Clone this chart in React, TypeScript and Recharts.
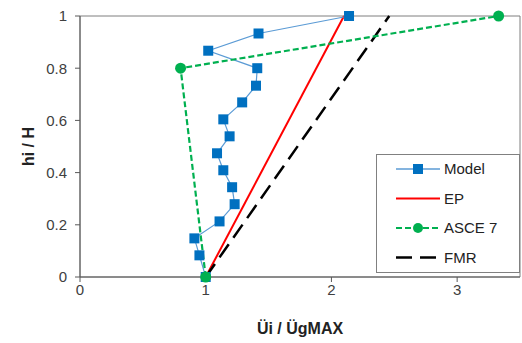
import React from 'react';
import {
  ComposedChart,
  Line,
  XAxis,
  YAxis,
  ReferenceArea,
} from 'recharts';

// values
const modelX = [2.14, 1.42, 1.02, 1.41, 1.4, 1.29, 1.14, 1.19, 1.09, 1.14, 1.21, 1.23, 1.11, 0.91, 0.95, 1.0];
const modelY = [1.0, 0.933, 0.867, 0.8, 0.733, 0.669, 0.604, 0.539, 0.474, 0.409, 0.344, 0.279, 0.213, 0.148, 0.083, 0];
const epX = [1, 2.1];
const epY = [0, 1];
const asceX = [1, 0.8, 3.33];
const asceY = [0, 0.8, 1];
const fmrX = [1, 2.46];
const fmrY = [0, 1];
const xTicks = [0, 1, 2, 3];
const yTicks = [0, 0.2, 0.4, 0.6, 0.8, 1];

const zip = (xs: number[], ys: number[]) => xs.map((x, i) => ({ x, y: ys[i] }));

const BLUE = '#0070C0';
const BLUE_LINE = '#5B9BD5';
const GREEN = '#00B050';
const FONT = '"Liberation Sans", Arial, sans-serif';

const SquareDot = (props: any) => {
  const { cx, cy } = props;
  if (cx == null || cy == null) return null;
  return <rect x={cx - 5} y={cy - 5} width={10} height={10} fill={BLUE} />;
};

const RoundDot = (props: any) => {
  const { cx, cy } = props;
  if (cx == null || cy == null) return null;
  return <circle cx={cx} cy={cy} r={5.5} fill={GREEN} />;
};

const legendItems = [
  { name: 'Model', color: BLUE_LINE, dash: undefined, width: 1.5, marker: 'square' },
  { name: 'EP', color: '#FF0000', dash: undefined, width: 2, marker: 'none' },
  { name: 'ASCE 7', color: GREEN, dash: '6 3', width: 2.2, marker: 'circle' },
  { name: 'FMR', color: '#000000', dash: '16 8', width: 2.5, marker: 'none' },
];

const LegendBox = () => (
  <svg width={145} height={120} style={{ display: 'block' }}>
    <rect x={0.5} y={0.5} width={143} height={118} fill='#fff' stroke='#808080' />
    {legendItems.map((it, i) => {
      const y = 15 + i * 29.5;
      return (
        <g key={it.name}>
          <line x1={20} x2={64} y1={y} y2={y} stroke={it.color} strokeWidth={it.width} strokeDasharray={it.dash} />
          {it.marker === 'square' && <rect x={37} y={y - 5} width={10} height={10} fill={BLUE} />}
          {it.marker === 'circle' && <circle cx={42} cy={y} r={5} fill={GREEN} />}
          <text x={68} y={y + 5} fontSize={15} fontFamily={FONT} fill='#222'>
            {it.name}
          </text>
        </g>
      );
    })}
  </svg>
);

export default function App() {
  return (
    <div style={{ position: 'absolute', left: 0, top: 0, width: 522, height: 343, background: '#fff' }}>
      <ComposedChart width={522} height={343} margin={{ top: 16, right: 2, left: 0, bottom: 0 }}>
        <XAxis
          type='number'
          dataKey='x'
          domain={[0, 3.5]}
          ticks={xTicks}
          allowDataOverflow
          height={66}
          stroke='#595959'
          tickSize={5}
          tick={{ fill: '#404040', fontSize: 15, fontFamily: FONT }}
          label={{
            value: 'Üi / ÜgMAX',
            position: 'insideBottom',
            offset: 9,
            style: { fontSize: 16, fontWeight: 'bold', fontFamily: FONT, fill: '#222' },
          }}
        />
        <YAxis
          type='number'
          dataKey='y'
          domain={[0, 1]}
          ticks={yTicks}
          width={80}
          stroke='#595959'
          tickSize={5}
          tickMargin={8}
          tick={{ fill: '#404040', fontSize: 15, fontFamily: FONT }}
          label={{
            value: 'hi / H',
            angle: -90,
            position: 'insideLeft',
            offset: 28,
            style: { fontSize: 16, fontWeight: 'bold', fontFamily: FONT, fill: '#222', textAnchor: 'middle' },
          }}
        />
        <ReferenceArea x1={0} x2={3.5} y1={0} y2={1} fill='none' stroke='#7f7f7f' strokeWidth={1} />
        <Line
          data={zip(epX, epY)}
          dataKey='y'
          stroke='#FF0000'
          strokeWidth={2}
          dot={false}
          isAnimationActive={false}
        />
        <Line
          data={zip(fmrX, fmrY)}
          dataKey='y'
          stroke='#000000'
          strokeWidth={2.5}
          strokeDasharray='16 8'
          dot={false}
          isAnimationActive={false}
        />
        <Line
          data={zip(modelX, modelY)}
          dataKey='y'
          stroke={BLUE_LINE}
          strokeWidth={1.2}
          dot={<SquareDot />}
          isAnimationActive={false}
        />
        <Line
          data={zip(asceX, asceY)}
          dataKey='y'
          stroke={GREEN}
          strokeWidth={2.2}
          strokeDasharray='6 3'
          dot={<RoundDot />}
          isAnimationActive={false}
        />
      </ComposedChart>
      <div style={{ position: 'absolute', left: 376, top: 154 }}>
        <LegendBox />
      </div>
    </div>
  );
}
